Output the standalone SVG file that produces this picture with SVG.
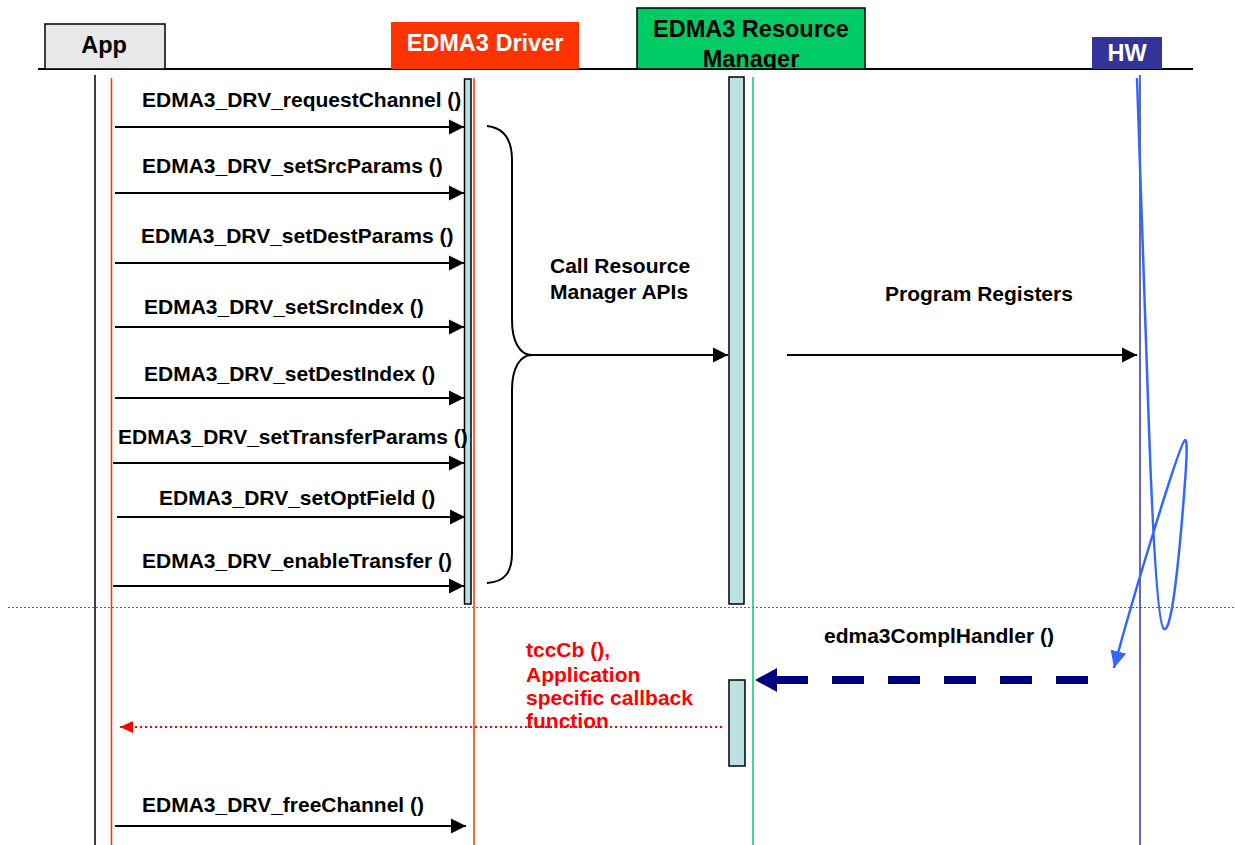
<svg xmlns="http://www.w3.org/2000/svg" width="1235" height="845" viewBox="0 0 1235 845">
<style>
.lbl{font-family:"Liberation Sans",Arial,sans-serif;font-weight:bold;font-size:21px;fill:#000}
.hdr{font-family:"Liberation Sans",Arial,sans-serif;font-weight:bold;font-size:23.5px;text-anchor:middle}
.red{font-family:"Liberation Sans",Arial,sans-serif;font-weight:bold;font-size:21px;fill:#ff0000}
.msg{stroke:#000;stroke-width:2;fill:none;marker-end:url(#ah)}
.act{fill:#bde0e3;stroke:#000;stroke-width:1.5}
</style>
<defs>
<marker id="ah" markerUnits="userSpaceOnUse" markerWidth="16" markerHeight="16" refX="15" refY="8" orient="auto"><path d="M0,0.5 L15,8 L0,15.5 z" fill="#000"/></marker>
<marker id="ahNavy" markerUnits="userSpaceOnUse" markerWidth="24" markerHeight="26" refX="0" refY="13" orient="auto"><path d="M0,1 L22,13 L0,25 z" fill="#000080"/></marker>
<marker id="ahRed" markerUnits="userSpaceOnUse" markerWidth="14" markerHeight="14" refX="13" refY="7" orient="auto"><path d="M0,1 L13,7 L0,13 z" fill="#ff0000"/></marker>
<marker id="ahBlue" markerUnits="userSpaceOnUse" markerWidth="18" markerHeight="16" refX="17" refY="8" orient="auto"><path d="M0,0 L17,8 L0,16 z" fill="#3366ff"/></marker>
<clipPath id="rmclip"><rect x="637" y="8" width="228" height="61"/></clipPath>
</defs>

<line x1="38" y1="69" x2="1193" y2="69" stroke="#000" stroke-width="2"/>
<line x1="8" y1="607.5" x2="1235" y2="607.5" stroke="#666" stroke-width="1.2" stroke-dasharray="2 2"/>

<g id="app">
<rect x="45" y="24" width="120" height="45" fill="#e8e8e8" stroke="#000" stroke-width="1.5"/>
<text class="hdr" x="104" y="53" fill="#000">App</text>
<line x1="95" y1="75" x2="95" y2="845" stroke="#000" stroke-width="1.5"/>
<line x1="111.5" y1="78" x2="111.5" y2="845" stroke="#ff3300" stroke-width="1.5"/>
</g>

<g id="driver">
<rect x="391" y="22" width="188" height="47" fill="#ff3300"/>
<text class="hdr" x="485" y="51" fill="#fff">EDMA3 Driver</text>
<line x1="474" y1="78" x2="474" y2="845" stroke="#ff3300" stroke-width="1.5"/>
<rect class="act" x="464.5" y="79" width="6.5" height="525"/>
</g>

<g id="rm">
<rect x="637" y="8" width="228" height="61" fill="#00cc66" stroke="#000" stroke-width="1.5"/>
<g clip-path="url(#rmclip)">
<text class="hdr" x="751" y="37" fill="#000">EDMA3 Resource</text>
<text class="hdr" x="751" y="67" fill="#000">Manager</text>
</g>
<line x1="753" y1="77" x2="753" y2="845" stroke="#00cc66" stroke-width="1.5"/>
<rect class="act" x="729" y="77" width="15" height="527"/>
<rect class="act" x="729" y="680" width="16" height="86"/>
</g>

<g id="hw">
<rect x="1092" y="37" width="70" height="32" fill="#333399"/>
<text class="hdr" x="1127" y="61" fill="#fff">HW</text>
<line x1="1140" y1="75" x2="1140" y2="845" stroke="#333399" stroke-width="1.5"/>
</g>

<g id="connectors">
<line class="msg" x1="115" y1="127" x2="464" y2="127"/>
<line class="msg" x1="115" y1="193" x2="464" y2="193"/>
<line class="msg" x1="115" y1="263" x2="464" y2="263"/>
<line class="msg" x1="115" y1="327" x2="464" y2="327"/>
<line class="msg" x1="115" y1="398" x2="464" y2="398"/>
<line class="msg" x1="113" y1="463" x2="464" y2="463"/>
<line class="msg" x1="117" y1="517" x2="465" y2="517"/>
<line class="msg" x1="113" y1="586" x2="464" y2="586"/>
<line class="msg" x1="115" y1="826" x2="466" y2="826"/>
<path d="M487,126 C505,128 512,140 512,160 L512,320 C512,342 520,355 532,355 C520,355 512,368 512,390 L512,553 C512,572 505,582 487,583" fill="none" stroke="#000" stroke-width="2"/>
<line class="msg" x1="532" y1="355" x2="728" y2="355"/>
<line class="msg" x1="787" y1="355" x2="1137" y2="355"/>
<path d="M1137,78 L1148,400 C1152,520 1157,625 1164,629 C1170,632 1176,590 1182,520 C1187,460 1188,440 1185,440 C1180,442 1132,600 1114,668" fill="none" stroke="#3366ff" stroke-width="2.5" marker-end="url(#ahBlue)"/>
<line x1="1088" y1="680" x2="777" y2="680" stroke="#000080" stroke-width="8" stroke-dasharray="32 24" marker-end="url(#ahNavy)"/>
<line x1="722" y1="727" x2="120" y2="727" stroke="#ff0000" stroke-width="2" stroke-dasharray="2 3" marker-end="url(#ahRed)"/>
</g>

<g id="labels">
<text class="lbl" x="142" y="107">EDMA3_DRV_requestChannel ()</text>
<text class="lbl" x="142" y="173">EDMA3_DRV_setSrcParams ()</text>
<text class="lbl" x="141" y="243">EDMA3_DRV_setDestParams ()</text>
<text class="lbl" x="144" y="314">EDMA3_DRV_setSrcIndex ()</text>
<text class="lbl" x="144" y="381">EDMA3_DRV_setDestIndex ()</text>
<text class="lbl" x="118" y="444">EDMA3_DRV_setTransferParams ()</text>
<text class="lbl" x="159" y="505">EDMA3_DRV_setOptField ()</text>
<text class="lbl" x="142" y="568">EDMA3_DRV_enableTransfer ()</text>
<text class="lbl" x="142" y="812">EDMA3_DRV_freeChannel ()</text>
<text class="lbl" x="550" y="273">Call Resource</text>
<text class="lbl" x="550" y="299">Manager APIs</text>
<text class="lbl" x="885" y="301">Program Registers</text>
<text class="lbl" x="824" y="643">edma3ComplHandler ()</text>
<text class="red" x="526" y="657">tccCb (),</text>
<text class="red" x="526" y="682">Application</text>
<text class="red" x="526" y="705">specific callback</text>
<text class="red" x="526" y="728">function</text>
</g>
</svg>
